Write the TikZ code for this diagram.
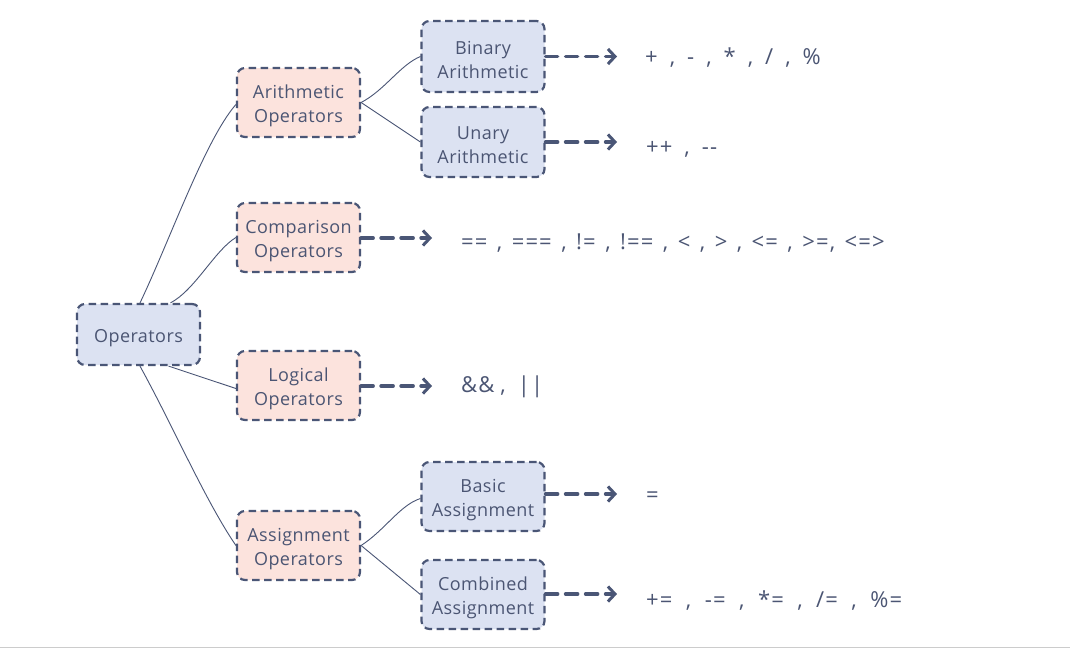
\documentclass[tikz,border=0pt]{standalone}
\usepackage{fontspec}
\setmainfont{Open Sans}
\newfontfamily\boxfont[LetterSpace=2.5]{Open Sans}
\newfontfamily\opsfont[LetterSpace=5]{Open Sans}
\newcommand\opsspacing[1]{\spaceskip=#1 plus 1pt minus 0pt\relax}
\newcommand\lowr{\rule{0pt}{20pt}}
\usetikzlibrary{arrows.meta}
\definecolor{bord}{HTML}{4A5676}
\definecolor{txt}{HTML}{4B5573}
\definecolor{bluef}{HTML}{DCE2F2}
\definecolor{pinkf}{HTML}{FCE3DD}
\tikzset{
  box/.style={draw=bord, line width=2.2pt, dash pattern=on 7.5pt off 4.5pt, rounded corners=8pt,
    minimum width=123pt, minimum height=69pt, align=center, text=txt,
    font=\boxfont\fontsize{18}{24}\selectfont, inner sep=2pt},
  bluebox/.style={box, fill=bluef},
  pinkbox/.style={box, fill=pinkf},
  link/.style={draw=bord, line width=0.9pt},
  dasharrow/.style={draw=bord, line width=3.6pt, dash pattern=on 12pt off 8pt,
    -{Straight Barb[length=7pt,width=15pt,line width=3pt]}, line cap=round},
  ops/.style={text=txt, font=\opsfont\fontsize{22}{26}\selectfont\opsspacing{#1}, anchor=west, inner sep=0pt},
  ops/.default=9pt
}
\begin{document}
\begin{tikzpicture}[x=1pt,y=-1pt]
\useasboundingbox (0,0) rectangle (1070,651);
\fill[white] (0,0) rectangle (1070,651);
\draw[gray!40, line width=1pt] (0,647.5) -- (1070,647.5);

\node[bluebox, minimum height=61pt] (op) at (138.5,334.5) {\lowr Operators};
\node[pinkbox] (ar) at (298.5,102.5) {\lowr Arithmetic\\Operators};
\node[pinkbox] (co) at (298.5,237.5) {\lowr Comparison\\Operators};
\node[pinkbox] (lo) at (298.5,385.5) {\lowr Logical\\Operators};
\node[pinkbox] (as) at (298.5,545.5) {\lowr Assignment\\Operators};
\node[bluebox, minimum height=71pt] (bi) at (483,56.5) {\lowr Binary\\Arithmetic};
\node[bluebox, minimum height=70pt] (un) at (483,142) {\lowr Unary\\Arithmetic};
\node[bluebox] (ba) at (483,496.5) {\lowr Basic\\Assignment};
\node[bluebox] (cb) at (483,594.5) {\lowr Combined\\Assignment};

% connectors
\draw[link] ([xshift=1.5pt]op.north) .. controls (170,240) and (205,140) .. ([yshift=-2pt]ar.west);
\draw[link] ([xshift=32pt]op.north) .. controls (195,290) and (215,250) .. (co.west);
\draw[link] ([xshift=30pt]op.south) -- ([yshift=-3pt]lo.west);
\draw[link] ([xshift=1.5pt]op.south) .. controls (175,430) and (205,500) .. (as.west);
\draw[link] (ar.east) .. controls (385,90) and (400,65) .. (bi.west);
\draw[link] (ar.east) -- (un.west);
\draw[link] (as.east) .. controls (385,530) and (400,505) .. ([yshift=-2pt]ba.west);
\draw[link] (as.east) -- (cb.west);

% arrows and operator lists
\coordinate (tbi) at (617,56.5);
\coordinate (tun) at (617,142);
\coordinate (tco) at (432,238);
\coordinate (tlo) at (432,386);
\coordinate (tba) at (617,494);
\coordinate (tcb) at (617,594);
\draw[dasharrow] (bi.east |- tbi) -- (tbi);
\draw[dasharrow] (un.east |- tun) -- (tun);
\draw[dasharrow] (co.east |- tco) -- (tco);
\draw[dasharrow] (lo.east |- tlo) -- (tlo);
\draw[dasharrow] (ba.east |- tba) -- (tba);
\draw[dasharrow] (cb.east |- tcb) -- (tcb);

\node[ops=12pt] (lbi) at (645,58) {+ , - , * , / , \%};
\node[ops=12pt] (lun) at (646,149) {++ , -{}-};
\node[ops=9.5pt] (lco) at (461,243) {== , === , != , !== , < , > , <= , >=, <=>};
\node[ops=6pt] (llo) at (461,387) {\&\& , \ ||};
\node[ops] (lba) at (646,497) {=};
\node[ops=13.5pt] (lcb) at (646,601) {+= , -= , *= , /= , \%=};
\end{tikzpicture}
\end{document}
